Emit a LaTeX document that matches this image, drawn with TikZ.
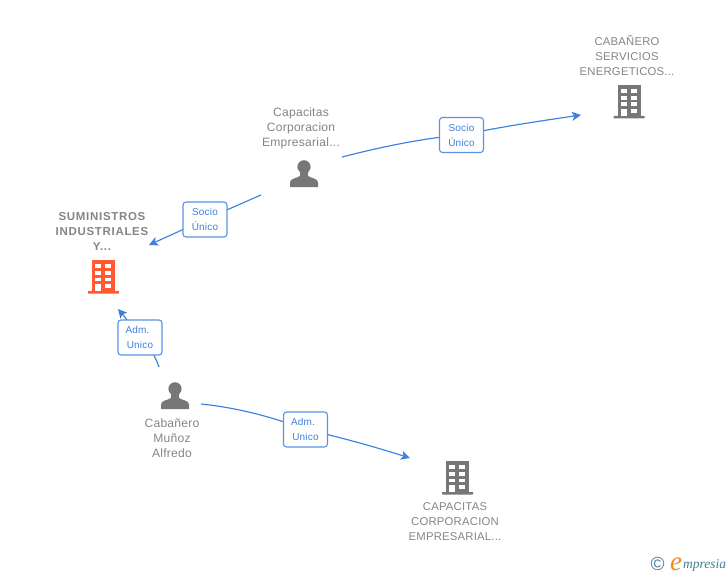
\documentclass[tikz,border=0pt]{standalone}
\usepackage{fontspec}
\setmainfont{Liberation Sans}
\newfontfamily\logofont{Liberation Serif}
\usetikzlibrary{arrows.meta,backgrounds}
\definecolor{icongray}{HTML}{777777}
\definecolor{icontext}{HTML}{858585}
\definecolor{iconorange}{HTML}{FF5A30}
\definecolor{linkblue}{HTML}{3C80E0}
\definecolor{logoteal}{HTML}{3F7F95}
\definecolor{logoorange}{HTML}{F08A1E}
\tikzset{
  x=1pt,y=-1pt,
  entity/.style={font=\fontsize{12.1}{15}\selectfont\addfontfeature{LetterSpace=2},text=icontext,align=center,inner sep=0pt},
  capentity/.style={font=\fontsize{11.3}{15}\selectfont\addfontfeature{LetterSpace=2},text=icontext,align=center,inner sep=0pt},
  mainentity/.style={font=\fontsize{11.5}{15}\selectfont\bfseries\addfontfeature{LetterSpace=6},text=icontext,align=center,inner sep=0pt},
  linkbox/.style={draw=linkblue!85,line width=1.1pt,fill=white,rounded corners=3pt,minimum width=44pt,minimum height=35pt,inner sep=0pt,
    font=\fontsize{10}{15}\selectfont\addfontfeature{LetterSpace=2},text=linkblue,align=center},
  link/.style={draw=linkblue,line width=1.15pt},
  linkarrow/.style={link,-{Stealth[length=9pt,width=9pt,inset=2.2pt]}},
  pics/building/.style={code={
    \fill (4,0) rectangle (27,31);
    \fill[rounded corners=0.5pt] (0,31) rectangle (31,33.5);
    \foreach \yy/\hh in {4/4,11/4,17.5/3.7,24/4}{
      \fill[white] (17.3,\yy) rectangle ++(6,\hh);
    }
    \foreach \yy/\hh in {4/4,11/4,17.5/3.7,24/7}{
      \fill[white] (7.3,\yy) rectangle ++(6,\hh);
    }
  }},
  pics/person/.style={code={
    \fill (14,6.8) circle (6.6);
    \fill (0,27) -- (0,22.5) .. controls (0,18.5) and (6,18.5) .. (10,16) -- (10,10) -- (18,10) -- (18,16)
       .. controls (22,18.5) and (28,18.5) .. (28,22.5) -- (28,27) -- cycle;
  }},
}
\begin{document}
\begin{tikzpicture}
\useasboundingbox (0,0) rectangle (728,575);
\begin{scope}[on background layer]
  \fill[white] (0,0) rectangle (728,575);
\end{scope}

% entity labels
\node[mainentity] (lblsum) at (102,231) {SUMINISTROS\\INDUSTRIALES\\Y...};
\node[entity] (lblcap) at (301,128) {Capacitas\\Corporacion\\Empresarial...};
\node[capentity] (lblcab) at (627,56) {CABAÑERO\\SERVICIOS\\ENERGETICOS...};
\node[entity] (lblmun) at (172,438) {Cabañero\\Muñoz\\Alfredo};
\node[capentity] (lblcor) at (455,522) {CAPACITAS\\CORPORACION\\EMPRESARIAL...};

% icons
\pic[fill=iconorange] (icsum) at (88,260) {building};
\pic[fill=icongray] (iccab) at (613.5,85) {building};
\pic[fill=icongray] (iccor) at (442,461) {building};
\pic[fill=icongray] (iccap) at (290,160) {person};
\pic[fill=icongray] (icmun) at (161,382) {person};

% relation boxes
\node[linkbox] (boxtop) at (461.5,135) {Socio\\Único};
\node[linkbox] (boxleft) at (205,219.5) {Socio\\Único};
\node[linkbox] (boxadm) at (140,337.5) {Adm.\hspace*{5pt}\\Unico};
\node[linkbox] (boxbot) at (305.5,429.5) {Adm.\hspace*{5pt}\\Unico};

% free ends of connectors
\coordinate (s1) at (342,157);
\coordinate (e1) at (581,115);
\coordinate (s2) at (261,195);
\coordinate (e2) at (149,245);
\coordinate (s3) at (159,367);
\coordinate (e3) at (118,309);
\coordinate (s4) at (201,404);
\coordinate (e4) at (410,458);

\begin{scope}[on background layer]
  \draw[link] (s1) .. controls (385,146) and (425,138) .. (boxtop.center);
  \draw[linkarrow] (boxtop.center) .. controls (500,127) and (540,121) .. (e1);
  \draw[link] (s2) -- (boxleft.center);
  \draw[linkarrow] (boxleft.center) -- (e2);
  \draw[link] (s3) .. controls (155,355) and (148,345) .. (boxadm.center);
  \draw[linkarrow] (boxadm.center) .. controls (132,327) and (125,317) .. (e3);
  \draw[link] (s4) .. controls (240,408) and (275,418) .. (boxbot.center);
  \draw[linkarrow] (boxbot.center) .. controls (340,437) and (375,447) .. (e4);
\end{scope}

% logo
\node[inner sep=0pt,text=logoteal,font=\fontsize{19}{19}\selectfont] (logoc) at (657.5,564) {©};
\node[inner sep=0pt,text=logoorange,anchor=base west,font=\logofont\itshape\fontsize{27}{27}\selectfont] (logoe) at (670,570) {e};
\node[inner sep=0pt,text=logoteal,anchor=base west,font=\logofont\itshape\fontsize{13.5}{13.5}\selectfont] (logot) at (683,568) {mpresia};
\end{tikzpicture}
\end{document}
